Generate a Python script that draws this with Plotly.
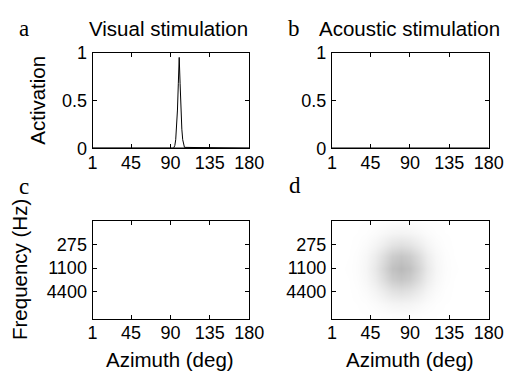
import plotly.graph_objects as go

# ---------------- data ----------------
azimuth_ticks = [1, 45, 90, 135, 180]
activation_ticks = [0, 0.5, 1]
activation_ticktext = ["0", "0.5", "1"]
freq_ticks = [275, 1100, 4400]

# panel a: visual stimulation -> visual map activation
visual_az = [1, 93, 94, 95, 96, 97, 98, 99, 100, 101, 102, 103, 104, 105, 106, 180]
visual_act = [0, 0, 0.01, 0.03, 0.09, 0.2, 0.4, 0.68, 0.95, 0.68, 0.4, 0.2, 0.09, 0.03, 0.01, 0]

# panel b: acoustic stimulation -> visual map activation (none)
acoustic_az = [1, 180]
acoustic_act = [0, 0]

# panels c/d: auditory map (azimuth x frequency)
map_az = [1, 10, 20, 30, 40, 50, 60, 70, 80, 90, 100, 110, 120, 130, 140, 150, 160, 170, 180]
map_freq = [69, 138, 275, 550, 1100, 2200, 4400, 8800, 17600]

map_visual = [[0] * len(map_az) for _ in map_freq]

map_acoustic = [
    [0, 0, 0, 0.001, 0.002, 0.004, 0.007, 0.010, 0.012, 0.010, 0.007, 0.004, 0.002, 0.001, 0, 0, 0, 0, 0],
    [0, 0, 0.001, 0.002, 0.006, 0.015, 0.028, 0.041, 0.046, 0.041, 0.028, 0.015, 0.006, 0.002, 0.001, 0, 0, 0, 0],
    [0, 0, 0.001, 0.005, 0.017, 0.040, 0.075, 0.109, 0.124, 0.109, 0.075, 0.040, 0.017, 0.005, 0.001, 0, 0, 0, 0],
    [0, 0, 0.002, 0.010, 0.030, 0.072, 0.135, 0.196, 0.222, 0.196, 0.135, 0.072, 0.030, 0.010, 0.002, 0, 0, 0, 0],
    [0, 0.001, 0.003, 0.012, 0.036, 0.088, 0.164, 0.238, 0.270, 0.238, 0.164, 0.088, 0.036, 0.012, 0.003, 0.001, 0, 0, 0],
    [0, 0, 0.002, 0.010, 0.030, 0.072, 0.135, 0.196, 0.222, 0.196, 0.135, 0.072, 0.030, 0.010, 0.002, 0, 0, 0, 0],
    [0, 0, 0.001, 0.005, 0.017, 0.040, 0.075, 0.109, 0.124, 0.109, 0.075, 0.040, 0.017, 0.005, 0.001, 0, 0, 0, 0],
    [0, 0, 0.001, 0.002, 0.006, 0.015, 0.028, 0.041, 0.046, 0.041, 0.028, 0.015, 0.006, 0.002, 0.001, 0, 0, 0, 0],
    [0, 0, 0, 0.001, 0.002, 0.004, 0.007, 0.010, 0.012, 0.010, 0.007, 0.004, 0.002, 0.001, 0, 0, 0, 0, 0],
]

# ---------------- layout helpers ----------------
W, H = 522, 380
SANS = "Liberation Sans, Arial, sans-serif"
SERIF = "Liberation Serif, Times New Roman, serif"


def px_x(p):
    return p / W


def px_y(p):
    return 1 - p / H


colx = [(91, 254), (340, 503)]
rowy = [(45, 146), (223, 326)]

fig = go.Figure()

fig.add_trace(go.Scatter(x=visual_az, y=visual_act, mode="lines",
                         line=dict(color="black", width=1), xaxis="x", yaxis="y",
                         showlegend=False, hoverinfo="skip"))
fig.add_trace(go.Scatter(x=acoustic_az, y=acoustic_act, mode="lines",
                         line=dict(color="black", width=1.5), xaxis="x2", yaxis="y2",
                         showlegend=False, hoverinfo="skip"))
fig.add_trace(go.Scatter(x=[1, 180], y=[0, 0], mode="lines",
                         line=dict(color="black", width=1.5), xaxis="x", yaxis="y",
                         showlegend=False, hoverinfo="skip"))

gray = [[0, "white"], [1, "black"]]
fig.add_trace(go.Heatmap(x=map_az, y=map_freq, z=map_visual, colorscale=gray,
                         zmin=0, zmax=1, showscale=False, zsmooth="best",
                         xaxis="x3", yaxis="y3", hoverinfo="skip"))
fig.add_trace(go.Heatmap(x=map_az, y=map_freq, z=map_acoustic, colorscale=gray,
                         zmin=0, zmax=1, showscale=False, zsmooth="best",
                         xaxis="x4", yaxis="y4", hoverinfo="skip"))

axis_common = dict(showline=True, linecolor="black", linewidth=1, mirror="ticks",
                   ticks="inside", ticklen=4, tickcolor="black", showgrid=False,
                   zeroline=False, tickfont=dict(family=SANS, size=18, color="black"))

layout = dict(width=W, height=H, margin=dict(l=0, r=0, t=0, b=0),
              paper_bgcolor="white", plot_bgcolor="white", showlegend=False)

names = [("x", "y", 0, 0), ("x2", "y2", 1, 0), ("x3", "y3", 0, 1), ("x4", "y4", 1, 1)]
for xn, yn, c, r in names:
    xl = "xaxis" if xn == "x" else "xaxis" + xn[1:]
    yl = "yaxis" if yn == "y" else "yaxis" + yn[1:]
    layout[xl] = dict(axis_common, domain=[px_x(colx[c][0]), px_x(colx[c][1])],
                      range=[1, 180], tickvals=azimuth_ticks, anchor=yn,
                      ticklabelstandoff=-2)
    if r == 0:
        layout[yl] = dict(axis_common, domain=[px_y(rowy[r][1]), px_y(rowy[r][0])],
                          range=[0, 1], tickvals=activation_ticks,
                          ticktext=activation_ticktext, anchor=xn, ticklabelstandoff=1)
    else:
        layout[yl] = dict(axis_common, domain=[px_y(rowy[r][1]), px_y(rowy[r][0])],
                          type="log", range=[4.357, 1.825], tickvals=freq_ticks,
                          ticktext=[str(f) for f in freq_ticks], anchor=xn,
                          ticklabelstandoff=1)

fig.update_layout(**layout)


def ann(text, x, y, size, family=SANS, angle=0):
    fig.add_annotation(text=text, x=px_x(x), y=px_y(y), xref="paper", yref="paper",
                       showarrow=False, xanchor="center", yanchor="middle",
                       textangle=angle, font=dict(family=family, size=size, color="black"))


ann("Visual stimulation", 170, 20, 20.5)
ann("Acoustic stimulation", 421, 20, 20.5)
ann("a", 20, 20, 23, SERIF)
ann("b", 301, 19, 23, SERIF)
ann("c", 20, 186, 23, SERIF)
ann("d", 302, 185, 23, SERIF)
ann("Activation", 33, 95, 20.5, angle=-90)
ann("Frequency (Hz)", 15, 274, 20.5, angle=-90)
ann("Azimuth (deg)", 172, 369, 20.5)
ann("Azimuth (deg)", 421, 369, 20.5)

fig.write_html("out.html", config={"displayModeBar": False},
               post_script="document.body.style.margin='0';")
